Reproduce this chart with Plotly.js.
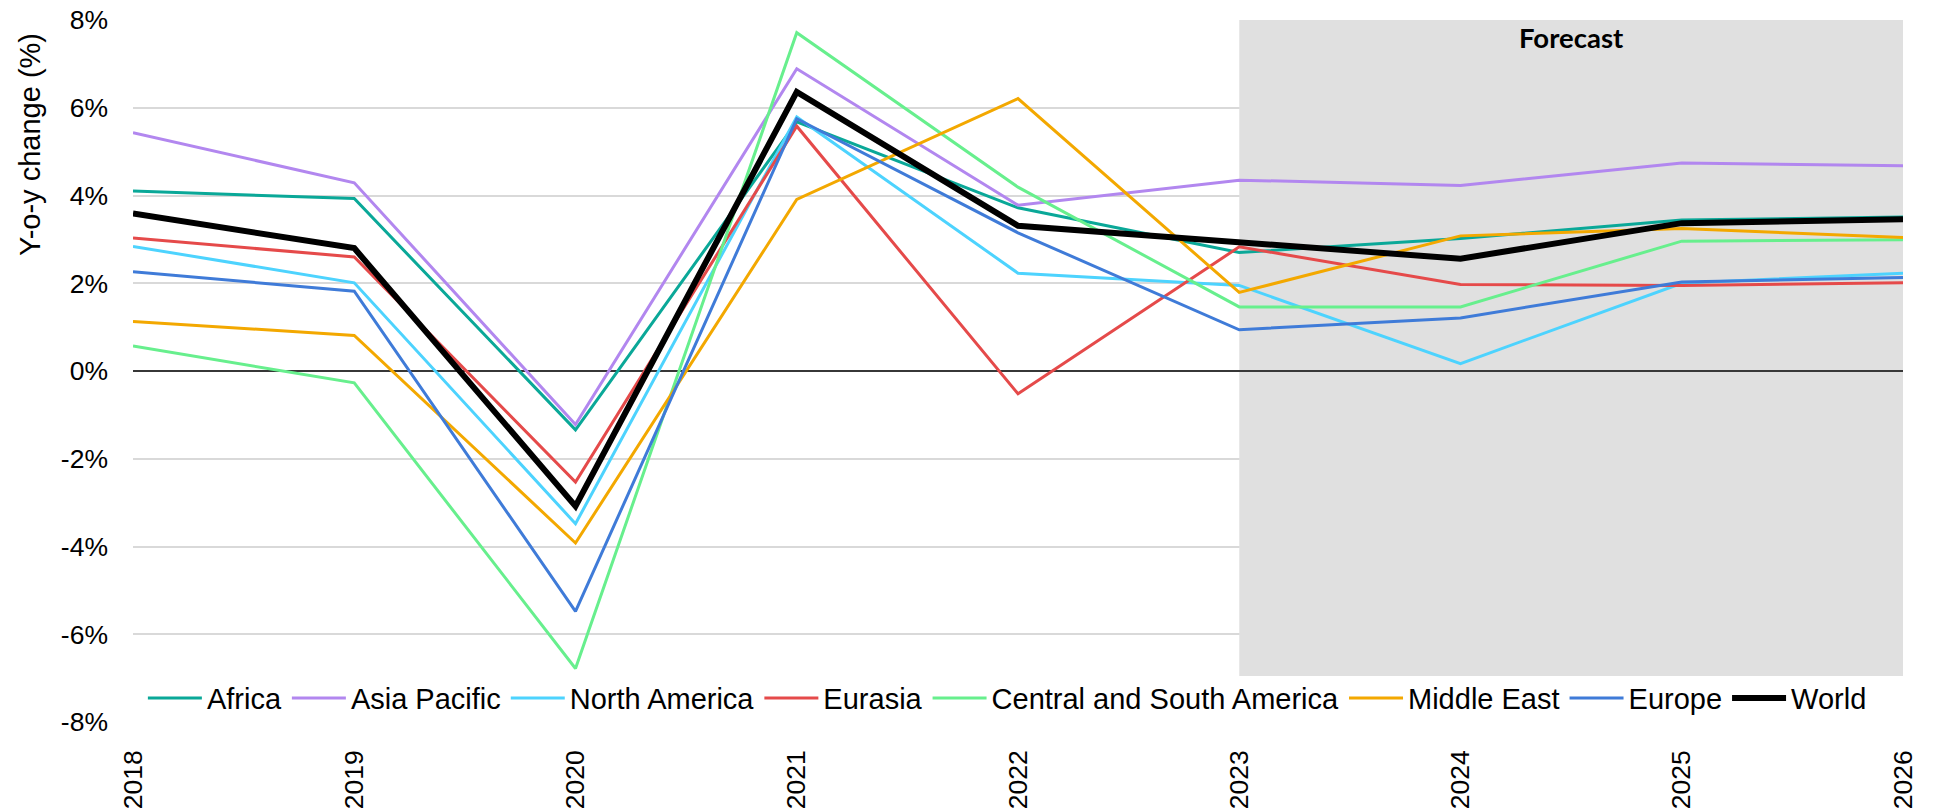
<!DOCTYPE html>
<html>
<head>
<meta charset="utf-8">
<script src="https://cdn.plot.ly/plotly-3.0.1.min.js"></script>
<style>html,body{margin:0;padding:0;background:#fff;}#chart{width:1935px;height:811px;}</style>
</head>
<body>
<div id="chart"></div>
<script>
const years = [2018, 2019, 2020, 2021, 2022, 2023, 2024, 2025, 2026];
const africa = [4.10, 3.93, -1.34, 5.68, 3.72, 2.70, 3.02, 3.44, 3.51];
const asiaPacific = [5.43, 4.29, -1.22, 6.89, 3.78, 4.35, 4.23, 4.74, 4.68];
const northAmerica = [2.84, 2.01, -3.48, 5.79, 2.23, 1.95, 0.17, 2.00, 2.23];
const eurasia = [3.03, 2.60, -2.53, 5.58, -0.52, 2.83, 1.97, 1.95, 2.01];
const centralSouthAmerica = [0.57, -0.27, -6.78, 7.71, 4.19, 1.46, 1.46, 2.96, 2.99];
const middleEast = [1.13, 0.81, -3.92, 3.91, 6.21, 1.79, 3.08, 3.25, 3.04];
const europe = [2.26, 1.82, -5.48, 5.75, 3.15, 0.94, 1.21, 2.03, 2.13];
const world = [3.59, 2.80, -3.08, 6.36, 3.31, 2.93, 2.56, 3.37, 3.46];
const seriesNames = ["Africa", "Asia Pacific", "North America", "Eurasia", "Central and South America", "Middle East", "Europe", "World"];
const yTicks = [-8, -6, -4, -2, 0, 2, 4, 6, 8];
const forecastStart = 2023, forecastEnd = 2026;

const seriesData = [africa, asiaPacific, northAmerica, eurasia, centralSouthAmerica, middleEast, europe, world];
const colors = ["#0aa898", "#b287ef", "#4dd3fe", "#e54a4a", "#67ef8d", "#f3a800", "#3f7bd8", "#000000"];
const widths = [3, 3, 3, 3, 3, 3, 3, 6];

const traces = seriesData.map((d, i) => ({
  type: "scatter", mode: "lines", name: seriesNames[i], x: years, y: d,
  line: {color: colors[i], width: widths[i]}, hoverinfo: "x+y+name"
}));

const layout = {
  width: 1935, height: 811,
  margin: {l: 133, r: 32, t: 20, b: 89},
  paper_bgcolor: "#ffffff", plot_bgcolor: "#ffffff",
  font: {family: "Liberation Sans, Arial, sans-serif", size: 26, color: "#000"},
  showlegend: true,
  legend: {orientation: "h", x: 0.494, xanchor: "center", y: 0.034, yanchor: "middle",
           bgcolor: "rgba(0,0,0,0)", font: {size: 29}, itemwidth: 54, tracegroupgap: 0},
  xaxis: {range: [2018, 2026], tickvals: years, ticktext: years.map(String), tickangle: -90,
          showgrid: false, zeroline: false, showline: false, ticks: "", ticklabelstandoff: 22,
          tickfont: {size: 26.5}},
  yaxis: {range: [-8, 8], tickvals: yTicks, ticktext: yTicks.map(v => v + "%"),
          showgrid: true, gridcolor: "#d9d9d9", gridwidth: 2, zeroline: false, showline: false,
          ticks: "", ticklabelstandoff: 24, tickfont: {size: 26.5}},
  shapes: [
    {type: "rect", xref: "x", yref: "y", x0: forecastStart, x1: forecastEnd, y0: -6.95, y1: 8,
     fillcolor: "#e0e0e0", line: {width: 0}, layer: "between"},
    {type: "line", xref: "x", yref: "y", x0: 2018, x1: 2026, y0: 0, y1: 0,
     line: {color: "#000", width: 1.5}, layer: "between"}
  ],
  annotations: [
    {text: "Forecast", xref: "x", yref: "y", x: (forecastStart + forecastEnd) / 2, y: 7.6,
     showarrow: false, font: {family: "Lato, Open Sans, sans-serif", size: 27.5, color: "#000", weight: "bold"},
     xanchor: "center", yanchor: "middle"},
    {text: "Y-o-y change (%)", xref: "paper", yref: "paper", x: (30 - 133) / 1770, y: 1 - (145 - 20) / 702,
     showarrow: false, textangle: -90, font: {size: 29, color: "#000"}, xanchor: "center", yanchor: "middle"}
  ]
};

Plotly.newPlot("chart", traces, layout, {displayModeBar: false, staticPlot: true});
</script>
</body>
</html>
